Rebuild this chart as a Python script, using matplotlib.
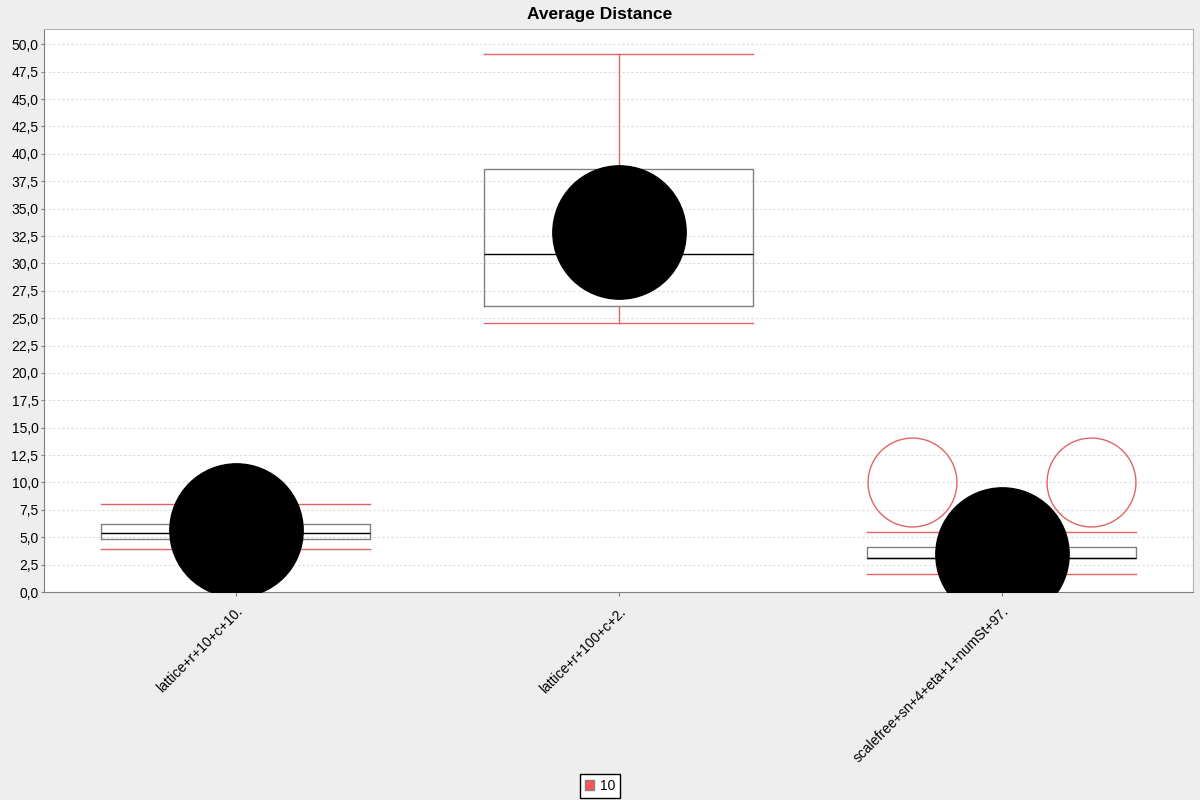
import matplotlib
matplotlib.use('Agg')
import matplotlib.pyplot as plt
from matplotlib.patches import Patch
from matplotlib.ticker import FuncFormatter, MultipleLocator

categories = ['lattice+r+10+c+10.', 'lattice+r+100+c+2.', 'scalefree+sn+4+eta+1+numSt+97.']
q1 = [4.84, 26.1, 3.06]
q3 = [6.2, 38.58, 4.07]
medians = [5.43, 30.82, 3.1]
whisker_low = [3.97, 24.57, 1.6]
whisker_high = [8.0, 49.13, 5.45]
means = [5.66, 32.88, 3.5]
outliers = [[], [], [10.07, 10.07]]
series_name = '10'

red = '#e06464'
bg = '#eeeeee'

plt.rcParams['font.family'] = ['Liberation Sans', 'DejaVu Sans']

fig = plt.figure(figsize=(12, 8), dpi=100, facecolor=bg)
ax = fig.add_axes([44 / 1200, 1 - 592 / 800, 1149 / 1200, 563 / 800])
ax.set_facecolor('white')

stats = []
for i, name in enumerate(categories):
    stats.append({'label': name, 'q1': q1[i], 'q3': q3[i], 'med': medians[i],
                  'whislo': whisker_low[i], 'whishi': whisker_high[i],
                  'fliers': []})

pos = list(range(len(categories)))
ax.bxp(stats, positions=pos, widths=0.7, capwidths=0.7, showmeans=False,
       showfliers=False,
       boxprops=dict(color='#808080', linewidth=1),
       whiskerprops=dict(color=red, linewidth=1),
       capprops=dict(color=red, linewidth=1),
       medianprops=dict(color='black', linewidth=1))

# mean markers, clipped at the plot edge
mean_line, = ax.plot(pos, means, linestyle='none', marker='o', markersize=96,
                     markerfacecolor='black', markeredgecolor='black', zorder=3)
mean_line.set_clip_path(ax.patch)

# grouped outliers drawn side by side like jfreechart does
for i, vals in enumerate(outliers):
    if len(vals) > 1:
        xs = [pos[i] - 0.233, pos[i] + 0.233]
        ys = [vals[0], vals[-1]]
    else:
        xs = [pos[i]] * len(vals)
        ys = vals
    ol, = ax.plot(xs, ys, linestyle='none', marker='o', markersize=64,
                  markerfacecolor='none', markeredgecolor=red, markeredgewidth=1)
    ol.set_clip_path(ax.patch)

ax.set_xlim(-0.5, 2.5)
ax.set_ylim(0, 51.4)
ax.yaxis.set_major_locator(MultipleLocator(2.5))
ax.yaxis.set_major_formatter(FuncFormatter(lambda v, p: f'{v:.1f}'.replace('.', ',')))
ax.grid(axis='y', color='#dcdcdc', linestyle=(0, (2, 2)), linewidth=0.8)
ax.set_axisbelow(True)

ax.set_xticks(pos)
ax.set_xticklabels(categories, rotation=45, ha='right', rotation_mode='anchor', fontsize=10)
ax.tick_params(axis='y', labelsize=10, length=2, color='#808080', pad=2)
ax.tick_params(axis='x', length=3, color='#808080', pad=6)

for s in ['left', 'bottom']:
    ax.spines[s].set_color('#808080')
for s in ['top', 'right']:
    ax.spines[s].set_color('#b4b4b4')

fig.text(0.5, 1 - 14 / 800, 'Average Distance', ha='center', va='center',
         fontsize=12.5, fontweight='bold')

leg = fig.legend(handles=[Patch(facecolor='#ff5555', edgecolor='#808080', label=series_name)],
                 loc='center', bbox_to_anchor=(600 / 1200, 1 - 786 / 800),
                 fontsize=10, fancybox=False, handlelength=0.7, handleheight=0.7,
                 handletextpad=0.4, borderpad=0.35, framealpha=1)
leg.get_frame().set_edgecolor('black')
leg.get_frame().set_linewidth(1)

fig.savefig('out.png', dpi=100, facecolor=bg)
